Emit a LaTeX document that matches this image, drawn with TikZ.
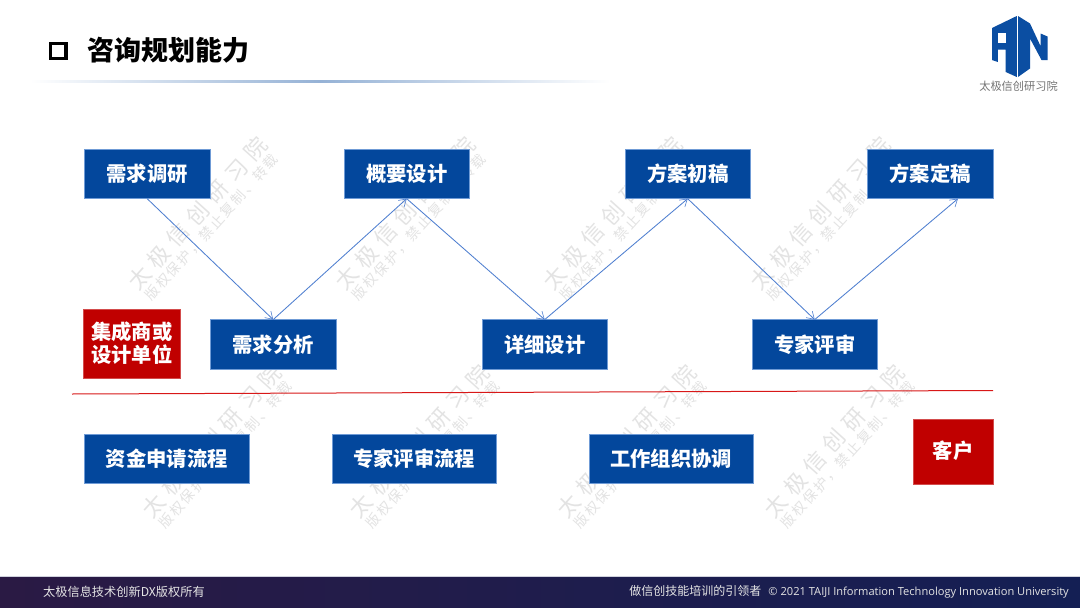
\documentclass[tikz,border=0pt]{standalone}
\usepackage{fontspec}
\setmainfont{Noto Sans CJK SC}
\newfontfamily\wmfont[LetterSpace=15]{Noto Sans CJK SC}
\newfontfamily\latinfoot{Open Sans}
\usetikzlibrary{arrows.meta,calc}
\definecolor{boxblue}{HTML}{03479C}
\definecolor{boxedge}{HTML}{6F9BD6}
\definecolor{boxred}{HTML}{C00000}
\definecolor{arrowblue}{HTML}{4F7FD0}
\definecolor{wmgray}{HTML}{E3E3E3}
\definecolor{footL}{HTML}{2A1A44}
\definecolor{footR}{HTML}{141F54}
\definecolor{logoblue}{HTML}{0B4EA2}
\definecolor{divred}{HTML}{D81818}
\tikzset{
  x=1pt,y=-1pt,
  bluebox/.style={draw=boxedge,line width=0.6pt,fill=boxblue,text=white,font=\fontsize{20.3}{24}\selectfont\bfseries,inner sep=0pt,anchor=north west,outer sep=0pt,minimum width=125.4pt,minimum height=49.4pt},
  widebox/.style={bluebox,minimum width=164.4pt},
  redbox/.style={draw=boxred!70!white,line width=0.6pt,fill=boxred,text=white,font=\fontsize{20.3}{24}\selectfont\bfseries,inner sep=0pt,anchor=north west,align=center,outer sep=0pt},
  flow/.style={draw=arrowblue,line width=0.85pt,-{Straight Barb[length=7pt,width=9pt,line width=0.6pt]}},
  wmbig/.style={text=wmgray,rotate=48,font=\fontsize{22}{26}\selectfont,inner sep=0pt},
  wmsmall/.style={text=wmgray,rotate=48,font=\wmfont\fontsize{14}{18}\selectfont,inner sep=0pt},
}
\newcommand{\wmark}[3]{%
  \node[wmbig] (#3a) at (#1,#2) {太\hspace{7pt}极\hspace{7pt}信\hspace{7pt}创\hspace{7pt}研\hspace{7pt}习\hspace{7pt}院};
  \node[wmsmall] (#3b) at ($(#1,#2)+(14,14)$) {版权保护，禁止复制、转载};
}
\begin{document}
\begin{tikzpicture}
\useasboundingbox (0,0) rectangle (1080,608);
\fill[white] (0,0) rectangle (1080,608);

% watermarks
\wmark{197.5}{213.5}{wa}
\wmark{405}{213.5}{wb}
\wmark{612.5}{213.5}{wc}
\wmark{820}{213.5}{wd}
\wmark{211.5}{441}{we}
\wmark{419}{441}{wf}
\wmark{626.5}{441}{wg}
\wmark{834}{441}{wh}

% header
\draw[line width=3.6pt] (50.6,43.6) rectangle (66,58.4);
\node[anchor=west,inner sep=0pt,font=\fontsize{27}{30}\selectfont\bfseries] (title) at (87,50) {咨询规划能力};
\shade[left color=white,right color=white,middle color=boxblue!42!white,draw=none] (30,80.2) rectangle (610,82.8);

% logo
\fill[logoblue] (992,28) -- (1016.8,16) -- (1016.8,77) -- (1005.7,72) -- (1005.7,49.5) -- (997.8,49.5) -- (997.8,62) -- (992,60) -- cycle;
\fill[white] (997.8,33) rectangle (1005.7,43);
\fill[logoblue] (1018,16) -- (1030,23.5) -- (1040.5,46) -- (1040.5,33.5) -- (1047.5,36.5) -- (1047.5,60) -- (1041.5,60) -- (1030,38.5) -- (1030,68.5) -- (1018,77) -- cycle;
\node[text=black!55,font=\fontsize{11.2}{12}\selectfont,inner sep=0pt] (logot) at (1018.5,86) {太极信创研习院};

% boxes
\node[bluebox] (a) at (84.5,149.3) {需求调研};
\node[bluebox] (b) at (344,149.3) {概要设计};
\node[bluebox] (c) at (625,149.3) {方案初稿};
\node[bluebox] (d) at (867.5,149.3) {方案定稿};
\node[bluebox] (e) at (210.5,319.6) {需求分析};
\node[bluebox] (f) at (482,319.6) {详细设计};
\node[bluebox] (g) at (752,319.6) {专家评审};
\node[redbox,minimum width=97.6pt,minimum height=68.6pt] (r1) at (83,309.2) {集成商或\\[-1pt]设计单位};
\node[widebox] (h) at (84.5,434) {资金申请流程};
\node[widebox] (i) at (332,434) {专家评审流程};
\node[widebox] (j) at (589,434) {工作组织协调};
\node[redbox,minimum width=80.6pt,minimum height=64.6pt] (r2) at (912.8,419.2) {};
\node[text=white,font=\fontsize{20.3}{24}\selectfont\bfseries,inner sep=0pt] (r2t) at (953,451) {客户};

% connectors
\coordinate (dend) at ($(d.south east)+(-35,0)$);
\draw[flow] (a.south) -- (e.north);
\draw[flow] (e.north) -- (b.south);
\draw[flow] (b.south) -- (f.north);
\draw[flow] (f.north) -- (c.south);
\draw[flow] (c.south) -- (g.north);
\draw[flow] (g.north) -- (dend);

% red divider
\coordinate (dl) at (72,394);
\coordinate (dr) at (993,390.5);
\draw[divred,line width=1pt] (dl) -- (dr);

% footer
\fill[white!80!footR] (0,576) rectangle (1080,577);
\shade[left color=footL,right color=footR] (0,577) rectangle (1080,608);
\node[anchor=west,inner sep=0pt,text=white!90!black,font=\fontsize{12.2}{13}\selectfont] (fl) at (43,591.5) {太极信息技术创新DX版权所有};
\node[anchor=east,inner sep=0pt,text=white!90!black,font=\fontsize{12}{13}\selectfont] (fr) at (1069,591.5) {做信创技能培训的引领者\hspace{7pt}{\latinfoot\fontsize{11.1}{13}\selectfont © 2021 TAIJI Information Technology Innovation University}};
\end{tikzpicture}
\end{document}
